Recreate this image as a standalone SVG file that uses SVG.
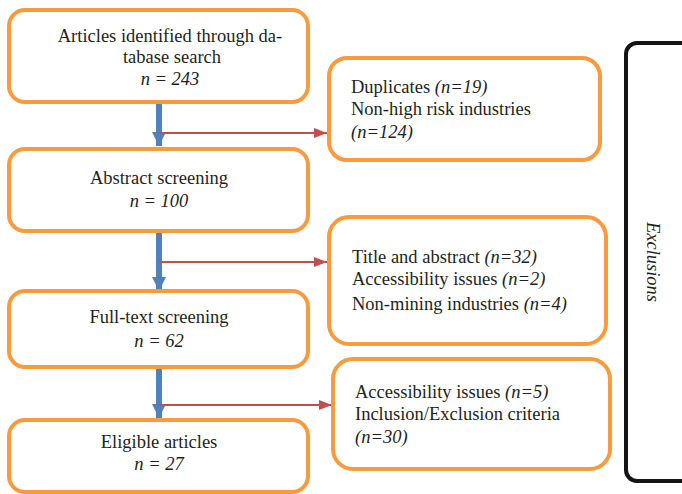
<svg xmlns="http://www.w3.org/2000/svg" width="682" height="494" viewBox="0 0 682 494">
  <style>
    .box { fill: #ffffff; stroke: #F79B3E; stroke-width: 4; }
    .frame { fill: none; stroke: #141414; stroke-width: 4; }
    .t { font-family: "Liberation Serif", "Times New Roman", serif; font-size: 18.5px; fill: #231F20; }
    .c { text-anchor: middle; }
    .i { font-style: italic; }
    .down { stroke: #4F81BD; stroke-width: 6; fill: none; }
    .side { stroke: #C0504D; stroke-width: 2; fill: none; }
  </style>
  <defs>
    <marker id="blueHead" markerUnits="userSpaceOnUse" markerWidth="14" markerHeight="14" refX="14" refY="7" orient="auto">
      <path d="M0,0 L14,7 L0,14 Z" fill="#4F81BD"/>
    </marker>
    <marker id="redHead" markerUnits="userSpaceOnUse" markerWidth="13" markerHeight="10" refX="13" refY="5" orient="auto">
      <path d="M0,0 L13,5 L0,10 Z" fill="#C0504D"/>
    </marker>
  </defs>

  <rect width="682" height="494" fill="#ffffff"/>

  <!-- outer bracket for the exclusion column -->
  <g id="exclusions">
    <rect class="frame" x="626" y="43" width="120" height="438" rx="11"/>
    <text class="t c i" transform="translate(647,262) rotate(90)">Exclusions</text>
  </g>

  <!-- connectors -->
  <g id="connectors">
    <line class="down" x1="159" y1="103" x2="159" y2="146" marker-end="url(#blueHead)"/>
    <line class="down" x1="159" y1="232" x2="159" y2="291" marker-end="url(#blueHead)"/>
    <line class="down" x1="159" y1="368" x2="159" y2="418" marker-end="url(#blueHead)"/>
    <line class="side" x1="159" y1="133" x2="327" y2="133" marker-end="url(#redHead)"/>
    <line class="side" x1="159" y1="262" x2="327" y2="262" marker-end="url(#redHead)"/>
    <line class="side" x1="159" y1="405" x2="332" y2="405" marker-end="url(#redHead)"/>
  </g>

  <!-- main flow -->
  <g id="identified">
    <rect class="box" x="9" y="10" width="299" height="92" rx="16"/>
    <text class="t c" x="170" y="42">Articles identified through da-</text>
    <text class="t c" x="172" y="63">tabase search</text>
    <text class="t c i" x="170" y="85">n = 243</text>
  </g>

  <g id="abstract">
    <rect class="box" x="9" y="149" width="299" height="82" rx="16"/>
    <text class="t c" x="159" y="184">Abstract screening</text>
    <text class="t c i" x="159" y="207">n = 100</text>
  </g>

  <g id="fulltext">
    <rect class="box" x="9" y="291" width="299" height="76" rx="16"/>
    <text class="t c" x="159" y="323">Full-text screening</text>
    <text class="t c i" x="159" y="347">n = 62</text>
  </g>

  <g id="eligible">
    <rect class="box" x="9" y="420" width="299" height="72" rx="16"/>
    <text class="t c" x="159" y="448">Eligible articles</text>
    <text class="t c i" x="159" y="470">n = 27</text>
  </g>

  <!-- exclusion boxes -->
  <g id="excl1">
    <rect class="box" x="329" y="58" width="271" height="102" rx="18"/>
    <text class="t" x="351" y="93">Duplicates <tspan class="i">(n=19)</tspan></text>
    <text class="t" x="351" y="115">Non-high risk industries</text>
    <text class="t i" x="351" y="138">(n=124)</text>
  </g>

  <g id="excl2">
    <rect class="box" x="329" y="217" width="277" height="127" rx="20"/>
    <text class="t" x="352" y="263">Title and abstract <tspan class="i">(n=32)</tspan></text>
    <text class="t" x="352" y="285">Accessibility issues <tspan class="i">(n=2)</tspan></text>
    <text class="t" x="352" y="310">Non-mining industries <tspan class="i">(n=4)</tspan></text>
  </g>

  <g id="excl3">
    <rect class="box" x="333" y="359" width="277" height="110" rx="20"/>
    <text class="t" x="355" y="398">Accessibility issues <tspan class="i">(n=5)</tspan></text>
    <text class="t" x="355" y="420">Inclusion/Exclusion criteria</text>
    <text class="t i" x="355" y="443">(n=30)</text>
  </g>
</svg>
